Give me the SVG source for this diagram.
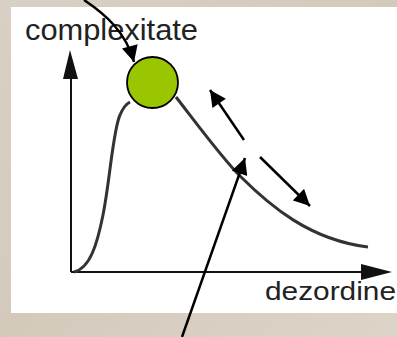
<svg xmlns="http://www.w3.org/2000/svg" width="397" height="337" viewBox="0 0 397 337">
<defs>
<linearGradient id="bg" x1="0" y1="0" x2="1" y2="1">
<stop offset="0" stop-color="#d8d0c4"/>
<stop offset="0.5" stop-color="#d4cabc"/>
<stop offset="1" stop-color="#ddd4c8"/>
</linearGradient>
<marker id="ah" viewBox="0 0 10 10" refX="10" refY="5" markerWidth="7" markerHeight="6.5" markerUnits="strokeWidth" orient="auto">
<path d="M0,0 L10,5 L0,10 z" fill="#000"/>
</marker>
<style>
.lbl{font-family:"Liberation Sans",Arial,sans-serif;fill:#222}
.axis{stroke:#111;stroke-width:2;fill:none}
.curve{stroke:#333;stroke-width:3;fill:none}
.arr{stroke:#000;stroke-width:2.5;fill:none;marker-end:url(#ah)}
</style>
</defs>
<rect width="397" height="337" fill="url(#bg)"/>
<rect x="11" y="7" width="386" height="306" fill="#fff"/>
<g id="axes">
<line class="axis" x1="71" y1="272" x2="71" y2="76"/>
<polygon points="70,50 63,79 78,79" fill="#111"/>
<line class="axis" x1="71" y1="272" x2="366" y2="272"/>
<polygon points="392,272 361,264 361,280" fill="#111"/>
</g>
<g id="curve">
<path class="curve" d="M74,272 C90,268 97,245 103,215 C110,180 113,130 120,115 C123,108 126,104 130,102"/>
<path class="curve" d="M176,97 C200,128 222,158 240,176 C270,206 310,240 368,247"/>
</g>
<g id="peak">
<circle cx="152.5" cy="82.5" r="25.5" fill="#99c600" stroke="#000" stroke-width="1.8"/>
</g>
<g id="label-complexitate">
<text class="lbl" x="25" y="40" font-size="30" textLength="173" lengthAdjust="spacingAndGlyphs">complexitate</text>
</g>
<g id="label-dezordine">
<text class="lbl" x="265" y="300" font-size="26" textLength="131" lengthAdjust="spacingAndGlyphs">dezordine</text>
</g>
<g id="connectors">
<path class="arr" d="M84,0 C105,14 126,32 134,62"/>
<line class="arr" x1="244" y1="140" x2="210" y2="90"/>
<line class="arr" x1="260" y1="157" x2="310" y2="206"/>
<line class="arr" x1="182" y1="337" x2="245" y2="158"/>
</g>
</svg>
